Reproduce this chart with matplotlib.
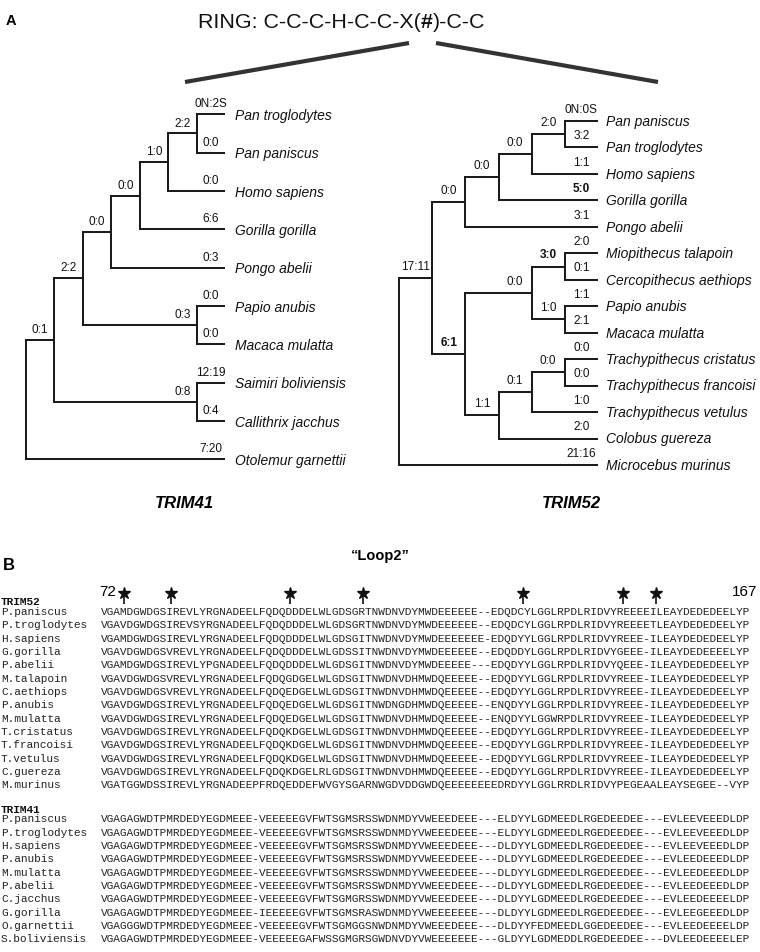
import matplotlib
matplotlib.use("Agg")
import matplotlib.pyplot as plt
from matplotlib import font_manager as fm

# ---------------------------------------------------------------- data
TITLE_PARTS = ["RING: C-C-C-H-C-C-X(", "#", ")-C-C"]

# tree nodes: (branch label, bold?, children list or leaf name)
TRIM41_TREE = [
    ("0:1", False, [
        ("2:2", False, [
            ("0:0", False, [
                ("0:0", False, [
                    ("1:0", False, [
                        ("2:2", False, [
                            ("0N:2S", False, "Pan troglodytes"),
                            ("0:0", False, "Pan paniscus")]),
                        ("0:0", False, "Homo sapiens")]),
                    ("6:6", False, "Gorilla gorilla")]),
                ("0:3", False, "Pongo abelii")]),
            ("0:3", False, [
                ("0:0", False, "Papio anubis"),
                ("0:0", False, "Macaca mulatta")])]),
        ("0:8", False, [
            ("12:19", False, "Saimiri boliviensis"),
            ("0:4", False, "Callithrix jacchus")])]),
    ("7:20", False, "Otolemur garnettii"),
]

TRIM52_TREE = [
    ("17:11", False, [
        ("0:0", False, [
            ("0:0", False, [
                ("0:0", False, [
                    ("2:0", False, [
                        ("0N:0S", False, "Pan paniscus"),
                        ("3:2", False, "Pan troglodytes")]),
                    ("1:1", False, "Homo sapiens")]),
                ("5:0", True, "Gorilla gorilla")]),
            ("3:1", False, "Pongo abelii")]),
        ("6:1", True, [
            ("0:0", False, [
                ("3:0", True, [
                    ("2:0", False, "Miopithecus talapoin"),
                    ("0:1", False, "Cercopithecus aethiops")]),
                ("1:0", False, [
                    ("1:1", False, "Papio anubis"),
                    ("2:1", False, "Macaca mulatta")])]),
            ("1:1", False, [
                ("0:1", False, [
                    ("0:0", False, [
                        ("0:0", False, "Trachypithecus cristatus"),
                        ("0:0", False, "Trachypithecus francoisi")]),
                    ("1:0", False, "Trachypithecus vetulus")]),
                ("2:0", False, "Colobus guereza")])])]),
    ("21:16", False, "Microcebus murinus"),
]

TREE_TITLES = ["TRIM41", "TRIM52"]

LOOP_LABEL = "\u201cLoop2\u201d"
RANGE_LABELS = ["72", "167"]
STAR_SITES = [3, 10, 28, 39, 63, 78, 83]

TRIM52_NAMES = ["P.paniscus", "P.troglodytes", "H.sapiens", "G.gorilla", "P.abelii",
                "M.talapoin", "C.aethiops", "P.anubis", "M.mulatta", "T.cristatus",
                "T.francoisi", "T.vetulus", "C.guereza", "M.murinus"]
TRIM52_SEQS = [
    "VGAMDGWDGSIREVLYRGNADEELFQDQDDDELWLGDSGRTNWDNVDYMWDEEEEEE--EDQDCYLGGLRPDLRIDVYREEEEILEAYDEDEDEELYP",
    "VGAVDGWDGSIREVSYRGNADEELFQDQDDDELWLGDSGRTNWDNVDYMWDEEEEEE--EDQDCYLGGLRPDLRIDVYREEEETLEAYDEDEDEELYP",
    "VGAMDGWDGSIREVLYRGNADEELFQDQDDDELWLGDSGITNWDNVDYMWDEEEEEEE-EDQDYYLGGLRPDLRIDVYREEE-ILEAYDEDEDEELYP",
    "VGAVDGWDGSVREVLYRGNADEELFQDQDDDELWLGDSSITNWDNVDYMWDEEEEEE--EDQDDYLGGLRPDLRIDVYGEEE-ILEAYDEDEEEELYP",
    "VGAMDGWDGSIREVLYPGNADEELFQDQDDDELWLGDSGITNWDNVDYMWDEEEEE---EDQDYYLGGLRPDLRIDVYQEEE-ILEAYDEDEDEELYP",
    "VGAVDGWDGSVREVLYRGNADEELFQDQGDGELWLGDSGITNWDNVDHMWDQEEEEE--EDQDYYLGGLRPDLRIDVYREEE-ILEAYDEDEDEELYP",
    "VGAVDGWDGSVREVLYRGNADEELFQDQEDGELWLGDSGITNWDNVDHMWDQEEEEE--EDQDYYLGGLRPDLRIDVYREEE-ILEAYDEDEDEELYP",
    "VGAVDGWDGSIREVLYRGNADEELFQDQEDGELWLGDSGITNWDNGDHMWDQEEEEE--ENQDYYLGGLRPDLRIDVYREEE-ILEAYDEDEDEELYP",
    "VGAVDGWDGSIREVLYRGNADEELFQDQEDGELWLGDSGITNWDNVDHMWDQEEEEE--ENQDYYLGGWRPDLRIDVYREEE-ILEAYDEDEDEELYP",
    "VGAVDGWDGSIREVLYRGNADEELFQDQKDGELWLGDSGITNWDNVDHMWDQEEEEE--EDQDYYLGGLRPDLRIDVYREEE-ILEAYDEDEDEELYP",
    "VGAVDGWDGSIREVLYRGNADEELFQDQKDGELWLGDSGITNWDNVDHMWDQEEEEE--EDQDYYLGGLRPDLRIDVYREEE-ILEAYDEDEDEELYP",
    "VGAVDGWDGSIREVLYRGNADEELFQDQKDGELWLGDSGITNWDNVDHMWDQEEEEE--EDQDYYLGGLRPDLRIDVYREEE-ILEAYDEDEDEELYP",
    "VGAVDGWDGSIREVLYRGNADEELFQDQKDGELRLGDSGITNWDNVDHMWDQEEEEE--EDQDYYLGGLRPDLRIDVYREEE-ILEAYDEDEDEELYP",
    "VGATGGWDSSIREVLYRGNADEEPFRDQEDDEFWVGYSGARNWGDVDDGWDQEEEEEEEEDRDYYLGGLRRDLRIDVYPEGEAALEAYSEGEE--VYP",
]

TRIM41_NAMES = ["P.paniscus", "P.troglodytes", "H.sapiens", "P.anubis", "M.mulatta",
                "P.abelii", "C.jacchus", "G.gorilla", "O.garnettii", "S.boliviensis"]
TRIM41_SEQS = [
    "VGAGAGWDTPMRDEDYEGDMEEE-VEEEEEGVFWTSGMSRSSWDNMDYVWEEEDEEE---ELDYYLGDMEEDLRGEDEEDEE---EVLEEVEEEDLDP",
    "VGAGAGWDTPMRDEDYEGDMEEE-VEEEEEGVFWTSGMSRSSWDNMDYVWEEEDEEE---ELDYYLGDMEEDLRGEDEEDEE---EVLEEVEEEDLDP",
    "VGAGAGWDTPMRDEDYEGDMEEE-VEEEEEGVFWTSGMSRSSWDNMDYVWEEEDEEE---DLDYYLGDMEEDLRGEDEEDEE---EVLEEVEEEDLDP",
    "VGAGAGWDTPMRDEDYEGDMEEE-VEEEEEGVFWTSGMSRSSWDNMDYVWEEEDEEE---DLDYYLGDMEEDLRGEDEEDEE---EVLEEDEEEDLDP",
    "VGAGAGWDTPMRDEDYEGDMEEE-VEEEEEGVFWTSGMSRSSWDNMDYVWEEEDEEE---DLDYYLGDMEEDLRGEDEEDEE---EVLEEDEEEDLDP",
    "VGAGAGWDTPMRDEDYEGDMEEE-VEEEEEGVFWTSGMSRSSWDNMDYVWEEEDEEE---DLDYYLGDMEEDLRGEDEEDEE---EVLEEDEEEDLDP",
    "VGAGAGWDTPMRDEDYEGDMEEE-VEEEEEGVFWTSGMGRSSWDNMDYVWEEEDEEE---DLDYYLGDMEEDLRGEDEEDEE---EVLEEDEEEELDP",
    "VGAGAGWDTPMRDEDYEGDMEEE-IEEEEEGVFWTSGMSRASWDNMDYVWEEEEEEE---DLDYYLGDMEEDLRGEDEEDEE---EVLEEGEEEDLDP",
    "VGAGGGWDTPMRDEDYEGDMEEE-VEEEEEGVFWTSGMGGSNWDNMDYVWEEEDEEE---DLDYYFEDMEEDLGGEDEEDEE---EVLEEDEEEELDP",
    "VGAGAGWDTPMRDEDYEGDMEEE-VEEEEEGAFWSSGMGRSGWDNVDYVWEEEEEEE---GLDYYLGDMEDDLRGEDEEDEE---DVLEEDEEEELEP",
]


# ---------------------------------------------------------------- helpers
def has_font(name):
    try:
        fm.findfont(fm.FontProperties(family=name), fallback_to_default=False)
        return True
    except Exception:
        return False


SANS = "Liberation Sans" if has_font("Liberation Sans") else "DejaVu Sans"
NARROW_OK = has_font("Liberation Sans Narrow")
NARROW = "Liberation Sans Narrow" if NARROW_OK else SANS
MONO = "Liberation Mono" if has_font("Liberation Mono") else "DejaVu Sans Mono"
TITLE_SIZE = 18.6 if NARROW_OK else 15.4

W, H = 760, 952
fig = plt.figure(figsize=(W / 100, H / 100), dpi=100)
fig.patch.set_facecolor("white")


def px_axes(x0, x1, y0, y1):
    ax = fig.add_axes([x0 / W, 1 - y1 / H, (x1 - x0) / W, (y1 - y0) / H])
    ax.set_axis_off()
    return ax


LINE_C = "#1c1c1c"
LW = 1.45


def build(children):
    counter = [0]

    def rec(sub):
        if isinstance(sub, str):
            y = counter[0]
            counter[0] += 1
            return {"h": 0, "y": y, "leaf": sub, "kids": []}
        kids = []
        for lab, bold, s in sub:
            r = rec(s)
            r["lab"], r["bold"] = lab, bold
            kids.append(r)
        return {"h": 1 + max(k["h"] for k in kids),
                "y": (kids[0]["y"] + kids[-1]["y"]) / 2.0,
                "leaf": None, "kids": kids}

    root = rec(children)
    return root, counter[0]


def draw_tree(box, children, lab_dy, name_dx, name_dy):
    root, nleaf = build(children)
    hr = root["h"]
    ax = px_axes(*box)
    ax.set_xlim(0, hr)
    ax.set_ylim(nleaf - 1, 0)

    def rec(n):
        xn = hr - n["h"]
        if not n["kids"]:
            ax.annotate(n["leaf"], xy=(xn, n["y"]), xytext=(name_dx, name_dy),
                        textcoords="offset points", ha="left", va="baseline",
                        fontsize=10, style="italic", family=SANS, color="#111111")
            return
        ax.plot([xn, xn], [n["kids"][0]["y"], n["kids"][-1]["y"]], color=LINE_C,
                lw=LW, solid_capstyle="projecting", clip_on=False)
        for k in n["kids"]:
            xk = hr - k["h"]
            ax.plot([xn, xk], [k["y"], k["y"]], color=LINE_C, lw=LW,
                    solid_capstyle="butt", clip_on=False)
            ax.annotate(k["lab"], xy=(xk - 0.5, k["y"]), xytext=(0, lab_dy),
                        textcoords="offset points", ha="center", va="baseline",
                        fontsize=8.5, family=SANS, color="#111111",
                        fontweight="bold" if k["bold"] else "normal")
            rec(k)

    rec(root)
    return ax


# ---------------------------------------------------------------- overlay (headings)
ov = px_axes(0, W, 0, H)
ov.set_xlim(0, W)
ov.set_ylim(H, 0)

ov.text(6, 21, "A", fontsize=10.5, fontweight="bold", family=SANS, ha="left", va="center")
ov.text(3, 566, "B", fontsize=12, fontweight="bold", family=SANS, ha="left", va="center")

t1 = ov.text(198, 28, TITLE_PARTS[0], fontsize=TITLE_SIZE, family=NARROW, ha="left",
             va="baseline", color="#111111")
t2 = ov.annotate(TITLE_PARTS[1], xy=(1, 0), xycoords=t1, ha="left", va="bottom",
                 fontsize=TITLE_SIZE, family=NARROW, fontweight="bold", color="#111111")
ov.annotate(TITLE_PARTS[2], xy=(1, 0), xycoords=t2, ha="left", va="bottom",
            fontsize=TITLE_SIZE, family=NARROW, color="#111111")

ov.plot([409, 185], [43, 82], color="#333333", lw=3.0, solid_capstyle="butt")
ov.plot([436, 658], [43, 82], color="#333333", lw=3.0, solid_capstyle="butt")

ov.text(184, 503, TREE_TITLES[0], fontsize=12, fontweight="bold", style="italic",
        family=SANS, ha="center", va="center")
ov.text(571, 503, TREE_TITLES[1], fontsize=12, fontweight="bold", style="italic",
        family=SANS, ha="center", va="center")
ov.text(380, 556, LOOP_LABEL, fontsize=10.5, fontweight="bold", family=NARROW,
        ha="center", va="center")

# ---------------------------------------------------------------- trees
draw_tree((26, 225, 114.3, 459.3), TRIM41_TREE, lab_dy=5.0, name_dx=7.2, name_dy=-4.0)
draw_tree((399, 598, 121, 465), TRIM52_TREE, lab_dy=6.0, name_dx=5.8, name_dy=-3.5)

# ---------------------------------------------------------------- alignments
ROW = 13.33
MONO_SIZE = 7.98


def draw_block(y0, names, seqs, header):
    n = len(seqs)
    ax = px_axes(1, 752.5, y0, y0 + (n - 1) * ROW)
    ax.set_xlim(-15, 98)
    ax.set_ylim(n - 1, 0)
    ax.text(-15, -0.75, header, family=MONO, fontweight="bold", fontsize=MONO_SIZE,
            ha="left", va="center", color="#111111")
    for i, (nm, sq) in enumerate(zip(names, seqs)):
        ax.text(-15, i, nm, family=MONO, fontsize=MONO_SIZE, ha="left", va="center",
                color="#222222")
        ax.text(0, i, sq, family=MONO, fontsize=MONO_SIZE, ha="left", va="center",
                color="#222222")
    return ax


ax52 = draw_block(612, TRIM52_NAMES, TRIM52_SEQS, "TRIM52")
ax41 = draw_block(819.5, TRIM41_NAMES, TRIM41_SEQS, "TRIM41")

xs = [s + 0.5 for s in STAR_SITES]
ax52.vlines(xs, -1.3, -0.6, color="#111111", lw=1.2, clip_on=False)
ax52.plot(xs, [-1.45] * len(xs), ls="none", marker="*", ms=9, color="#111111",
          clip_on=False)
ax52.text(2.3, -1.5, RANGE_LABELS[0], fontsize=11, family=NARROW, ha="right",
          va="center")
ax52.text(98.7, -1.5, RANGE_LABELS[1], fontsize=11, family=NARROW, ha="right",
          va="center")

fig.savefig("out.png", dpi=100, facecolor="white")
